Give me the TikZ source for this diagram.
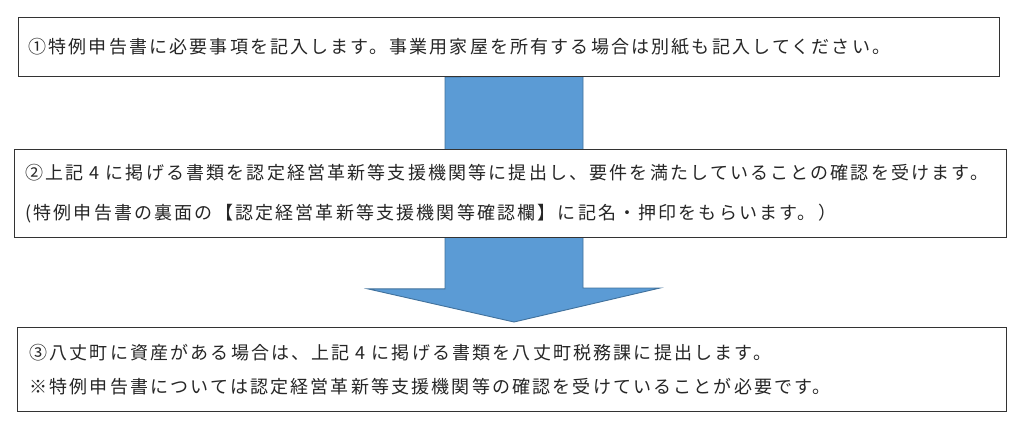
\documentclass[tikz,border=0pt]{standalone}
\usepackage{fontspec}
\newfontfamily\jpfont[LetterSpace=12]{Noto Sans CJK JP}
\usepackage{tikz}
\usetikzlibrary{backgrounds}

\definecolor{flowblue}{RGB}{91,155,213}
\definecolor{flowedge}{RGB}{65,113,156}
\tikzset{
  stepbox/.style={draw=black!80, line width=0.9pt, fill=white, anchor=north west,
    align=left, inner ysep=0pt, text=black!85},
  flowarrow/.style={fill=flowblue, draw=flowedge, line width=0.9pt}
}

\begin{document}
\begin{tikzpicture}[x=1pt, y=-1pt]
\useasboundingbox (0,0) rectangle (1024,432);
\node [stepbox, minimum width=981pt, minimum height=59pt, inner xsep=10pt, text width=961pt,
  font={\jpfont\fontsize{18}{40}\selectfont}] (box1) at (18,17)
  {①特例申告書に必要事項を記入します。事業用家屋を所有する場合は別紙も記入してください。};
\node [stepbox, minimum width=992pt, minimum height=88pt, inner xsep=11pt, text width=970pt,
  font={\jpfont\fontsize{18}{40}\selectfont}] (box2) at (14,149)
  {②上記 4 に掲げる書類を認定経営革新等支援機関等に提出し、要件を満たしていることの確認を受けます。\\
   (特例申告書の裏面の【認定経営革新等支援機関等確認欄】に記名・押印をもらいます。）};
\node [stepbox, minimum width=989pt, minimum height=84pt, inner xsep=12pt, text width=965pt,
  font={\jpfont\fontsize{18}{34}\selectfont}] (box3) at (17,327)
  {③八丈町に資産がある場合は、上記 4 に掲げる書類を八丈町税務課に提出します。\\
   ※特例申告書については認定経営革新等支援機関等の確認を受けていることが必要です。};
% block arrow behind the boxes
\coordinate (tip) at (514,322);
\coordinate (top) at (tip |- box1.south);
\begin{scope}[on background layer]
\draw [flowarrow] (top) ++(-69,0) -- ++(0,212) -- ++(-77,0) -- (tip)
  -- ++(146,-34) -- ++(-77,0) -- ++(0,-212) -- cycle;
\end{scope}
\end{tikzpicture}
\end{document}
